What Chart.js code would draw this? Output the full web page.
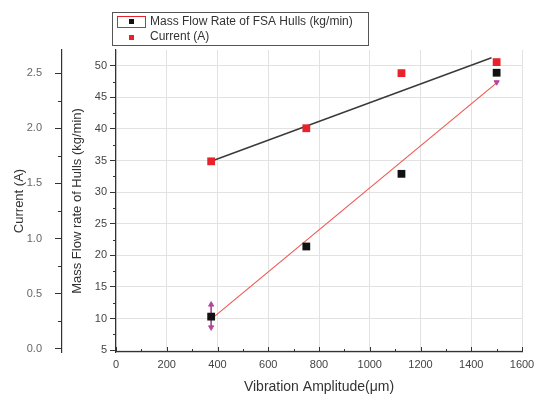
<!DOCTYPE html>
<html>
<head>
<meta charset="utf-8">
<script src="https://cdn.jsdelivr.net/npm/chart.js@4/dist/chart.umd.min.js"></script>
<style>
  html, body { margin: 0; padding: 0; background: #fff; }
  #wrap { width: 542px; height: 398px; }
</style>
</head>
<body>
<div id="wrap"><canvas id="chart"></canvas></div>
<script>
// Datos
const amplitud = [375, 750, 1125, 1500];
const flujoMasico = [10.3, 21.4, 32.9, 48.9];
const corriente = [1.70, 2.00, 2.50, 2.60];

// rectas de ajuste
const ajusteFlujoX = [375, 1500];
const ajusteFlujo = [9.9, 47.3];
const ajusteCorrienteX = [375, 1480];
const ajusteCorriente = [1.70, 2.64];

// barras de error (flechas)
const errorX = [375, 375, 1500];
const errorY = [12.2, 8.6, 47.4];

// Ticks
const ticksX = [0, 200, 400, 600, 800, 1000, 1200, 1400, 1600];
const ticksFlujo = [5, 10, 15, 20, 25, 30, 35, 40, 45, 50];
const ticksCorriente = [0, 0.5, 1.0, 1.5, 2.0, 2.5];

const FONT = "'Liberation Sans', Arial, sans-serif";
const ROJO = "#e8212b";
const NEGRO = "#111111";
const MAGENTA = "#b4469e";

const puntos = (xs, ys) => xs.map((x, i) => ({ x: x, y: ys[i] }));
const fijarTicks = (lista) => (scale) => { scale.ticks = lista.map(v => ({ value: v })); };

// ==============================
// Ticks menores / ticks hacia adentro
// ==============================
const ticksMenores = {
    id: "ticksMenores",
    afterDraw(chart) {
        const ctx = chart.ctx;
        const s = chart.scales;
        ctx.save();
        ctx.strokeStyle = "#333";
        ctx.lineWidth = 1;
        ctx.beginPath();
        // eje x: ticks hacia adentro
        for (let v = 0; v <= 1600; v += 100) {
            const px = Math.round(s.x.getPixelForValue(v)) + 0.5;
            const len = v % 200 === 0 ? 5 : 3;
            ctx.moveTo(px, s.x.top);
            ctx.lineTo(px, s.x.top - len);
        }
        // flujo: menores
        for (let v = 7.5; v < s.y.max; v += 5) {
            const py = Math.round(s.y.getPixelForValue(v)) + 0.5;
            ctx.moveTo(s.y.right, py);
            ctx.lineTo(s.y.right - 3, py);
        }
        // corriente: menores
        for (let v = 0.25; v < s.y1.max; v += 0.5) {
            const py = Math.round(s.y1.getPixelForValue(v)) + 0.5;
            ctx.moveTo(s.y1.right, py);
            ctx.lineTo(s.y1.right - 4, py);
        }
        ctx.stroke();
        ctx.restore();
    }
};

// ==============================
// Leyenda con recuadro
// ==============================
const leyenda = {
    id: "leyenda",
    afterDraw(chart) {
        const ctx = chart.ctx;
        const x0 = 112, y0 = 12, w = 256, h = 33;
        ctx.save();
        ctx.fillStyle = "#fff";
        ctx.fillRect(x0, y0, w, h);
        ctx.strokeStyle = "#555";
        ctx.lineWidth = 1;
        ctx.strokeRect(x0 + 0.5, y0 + 0.5, w, h);

        // fila 1
        ctx.strokeStyle = ROJO;
        ctx.strokeRect(117.5, 16.5, 28, 11);
        ctx.fillStyle = NEGRO;
        ctx.fillRect(129, 19, 5, 5);
        // fila 2
        ctx.fillStyle = ROJO;
        ctx.fillRect(129, 35, 5, 5);

        ctx.fillStyle = "#333";
        ctx.font = "12px " + FONT;
        ctx.textBaseline = "middle";
        ctx.fillText(chart.data.datasets[0].label, 150, 22);
        ctx.fillText(chart.data.datasets[1].label, 150, 37);
        ctx.restore();
    }
};

new Chart(document.getElementById("chart"), {

    type: "scatter",

    data: {
        datasets: [
            {
                label: "Mass Flow Rate of FSA Hulls (kg/min)",
                data: puntos(amplitud, flujoMasico),
                yAxisID: "y",
                pointStyle: "rect",
                pointRadius: 5.5,
                backgroundColor: NEGRO,
                borderColor: NEGRO,
                borderWidth: 0,
                order: 1
            },
            {
                label: "Current (A)",
                data: puntos(amplitud, corriente),
                yAxisID: "y1",
                pointStyle: "rect",
                pointRadius: 5.5,
                backgroundColor: ROJO,
                borderColor: ROJO,
                borderWidth: 0,
                order: 1
            },
            {
                label: "",
                data: puntos(ajusteFlujoX, ajusteFlujo),
                yAxisID: "y",
                showLine: true,
                pointRadius: 0,
                borderColor: "#ee5a55",
                borderWidth: 1.2,
                order: 3
            },
            {
                label: "",
                data: puntos(ajusteCorrienteX, ajusteCorriente),
                yAxisID: "y1",
                showLine: true,
                pointRadius: 0,
                borderColor: "#3a3a3a",
                borderWidth: 1.5,
                order: 3
            },
            {
                label: "",
                data: puntos(errorX.slice(0, 2), errorY.slice(0, 2)),
                yAxisID: "y",
                showLine: true,
                pointStyle: "triangle",
                pointRadius: 3,
                pointRotation: [0, 180],
                backgroundColor: MAGENTA,
                borderColor: MAGENTA,
                borderWidth: 1,
                order: 2
            },
            {
                label: "",
                data: puntos(errorX.slice(2), errorY.slice(2)),
                yAxisID: "y",
                pointStyle: "triangle",
                pointRadius: 3,
                pointRotation: 180,
                backgroundColor: MAGENTA,
                borderColor: MAGENTA,
                borderWidth: 1,
                order: 2
            }
        ]
    },

    options: {
        responsive: true,
        maintainAspectRatio: false,
        animation: false,
        layout: {
            padding: { top: 50, left: 8, right: 20, bottom: 0 }
        },
        plugins: {
            legend: { display: false },
            tooltip: { enabled: false }
        },
        scales: {
            x: {
                type: "linear",
                position: "bottom",
                min: 0,
                max: 1600,
                afterBuildTicks: fijarTicks(ticksX),
                afterFit: (s) => { s.height = 46; },
                grid: { color: "#e2e2e2", drawTicks: false },
                border: { color: "#333", width: 1.2 },
                ticks: {
                    color: "#444",
                    font: { family: FONT, size: 11 },
                    padding: 6,
                    callback: (v) => String(v)
                },
                title: {
                    display: true,
                    text: "Vibration Amplitude(μm)",
                    color: "#333",
                    font: { family: FONT, size: 14 },
                    padding: { top: 0, bottom: 2 }
                }
            },
            y: {
                type: "linear",
                position: "left",
                weight: 0,
                min: 4.7,
                max: 52.5,
                afterBuildTicks: fijarTicks(ticksFlujo),
                afterFit: (s) => { s.width = 54; },
                grid: { color: "#e2e2e2", tickColor: "#333", tickLength: 6 },
                border: { color: "#333", width: 1.2 },
                ticks: { color: "#444", font: { family: FONT, size: 11 }, padding: 3 },
                title: {
                    display: true,
                    text: "Mass Flow rate of Hulls (kg/min)",
                    color: "#333",
                    font: { family: FONT, size: 13 },
                    padding: { top: 8, bottom: 0 }
                }
            },
            y1: {
                type: "linear",
                position: "left",
                weight: 1,
                min: -0.03,
                max: 2.71,
                afterBuildTicks: fijarTicks(ticksCorriente),
                afterFit: (s) => { s.width = 54; },
                grid: { drawOnChartArea: false, tickColor: "#333", tickLength: 7 },
                border: { color: "#333", width: 1.2 },
                ticks: {
                    color: "#666",
                    font: { family: FONT, size: 11 },
                    padding: 13,
                    callback: (v) => v.toFixed(1)
                },
                title: {
                    display: true,
                    text: "Current (A)",
                    color: "#333",
                    font: { family: FONT, size: 13 },
                    padding: { top: 4, bottom: 0 }
                }
            }
        }
    },

    plugins: [ticksMenores, leyenda]
});
</script>
</body>
</html>
